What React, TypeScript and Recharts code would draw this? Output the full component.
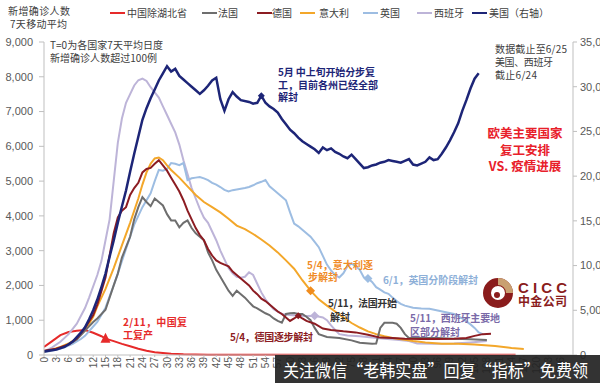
import React from "react";
import { LineChart, Line, XAxis, YAxis } from "recharts";

type Pt = [number, number];

const chinaExHubei: Pt[] = [[0,230],[2,400],[4,570],[6,660],[8,700],[10,720],[12,640],[14,540],[15,470],[17,400],[19,320],[21,250],[23,180],[25,120],[27,80],[29,55],[31,35],[34,20],[40,10],[50,8],[60,5],[70,5],[80,5],[90,6],[100,5],[115,5]];
const spain: Pt[] = [[0,100],[2,220],[4,380],[6,600],[8,900],[10,1350],[11,1650],[13,2300],[14,2700],[15,3300],[16,3900],[17,5000],[18,6100],[19,6800],[20,7250],[21,7500],[22,7750],[23,7900],[24,7950],[25,7880],[26,7700],[27,7550],[28,7400],[29,7150],[30,6900],[31,6650],[32,6400],[33,6050],[34,5600],[35,5200],[36,4800],[37,4500],[38,4200],[39,3950],[40,3800],[41,3550],[42,3300],[43,3000],[44,2750],[45,2500],[46,2350],[47,2250],[48,2220],[49,2250],[50,2380],[51,2300],[52,2050],[53,1800],[54,1600],[55,1450],[56,1320],[58,1180],[60,1150],[62,1130],[64,1120],[66,1130],[68,1080],[69,1000],[70,850],[71,720],[72,600],[74,560],[77,540],[80,500],[83,470],[86,440],[89,400],[91,330],[95,320],[100,330],[104,360],[108,400]];
const uk: Pt[] = [[0,80],[3,150],[5,220],[7,320],[9,460],[10,550],[12,820],[13,950],[15,1360],[17,2000],[18,2340],[19,2700],[20,3050],[21,3400],[22,3750],[23,4000],[24,4250],[25,4450],[26,4650],[27,5000],[28,5320],[29,5300],[30,5350],[31,5520],[32,5500],[33,5460],[34,5520],[35,5030],[36,5080],[37,5100],[38,5120],[39,5080],[40,5030],[41,4950],[42,4900],[43,4830],[44,4750],[45,4700],[46,4740],[47,4760],[48,4780],[49,4800],[50,4830],[51,4880],[52,4940],[53,4980],[54,5030],[55,4850],[56,4750],[57,4650],[58,4550],[59,4450],[60,4100],[61,3780],[62,3700],[63,3600],[64,3500],[65,3400],[66,3250],[67,3100],[68,2850],[69,2600],[70,2430],[71,2300],[72,2230],[73,2350],[74,2550],[75,2630],[76,2550],[77,2450],[78,2230],[79,2200],[80,2100],[81,1950],[82,1880],[83,1800],[84,1760],[85,1650],[86,1550],[87,1470],[88,1420],[90,1360],[92,1340],[94,1330],[96,1280],[98,1230],[100,1180],[102,1050],[104,880],[105,780],[106,650],[107,600]];
const italy: Pt[] = [[0,100],[2,160],[4,230],[6,330],[8,480],[10,700],[12,1100],[13,1400],[15,1900],[17,2500],[19,3150],[21,3800],[23,4500],[24,4900],[25,5250],[26,5500],[27,5650],[28,5680],[29,5600],[30,5450],[31,5320],[33,5100],[35,4850],[37,4600],[39,4400],[41,4250],[43,4100],[45,3920],[47,3720],[49,3620],[51,3480],[53,3320],[55,3150],[57,2950],[59,2720],[61,2480],[63,2150],[65,1850],[67,1600],[69,1420],[71,1250],[73,1080],[75,920],[77,790],[79,680],[81,600],[83,540],[85,490],[88,440],[90,400],[93,360],[97,320],[101,320],[105,300],[110,260],[114,200],[117,170]];
const france: Pt[] = [[0,100],[3,170],[6,300],[8,450],[10,700],[12,950],[13,1050],[15,1300],[17,2000],[18,2340],[19,2800],[20,3100],[21,3400],[22,3900],[23,4250],[24,4540],[25,4400],[26,4280],[27,4500],[28,4400],[29,4300],[30,4050],[31,3870],[32,3870],[33,3670],[34,3800],[35,3870],[36,3650],[37,3500],[38,3400],[39,3300],[40,2950],[41,2720],[42,2450],[43,2250],[44,2050],[45,1850],[46,1700],[47,1850],[48,1750],[49,1650],[50,1520],[51,1400],[52,1340],[53,1270],[54,1200],[55,1150],[56,1050],[57,980],[58,930],[59,1180],[60,1200],[61,1210],[62,1180],[63,1180],[64,1100],[65,1000],[66,780],[67,600],[69,520],[72,490],[75,420],[77,350],[80,320],[81,330],[82,780],[83,925],[85,925],[86,900],[87,780],[88,600],[89,490],[92,490],[96,490],[100,470],[104,450],[108,430]];
const germany: Pt[] = [[0,120],[3,180],[6,300],[8,480],[10,780],[12,1150],[13,1450],[15,2230],[17,3500],[18,3960],[19,4150],[20,4250],[21,4600],[22,4800],[23,4950],[24,5250],[25,5350],[26,5380],[27,5500],[28,5600],[29,5450],[30,5300],[31,5100],[32,4900],[33,4700],[34,4450],[35,4150],[36,3900],[37,3650],[38,3450],[39,3300],[40,3050],[41,2860],[42,2720],[43,2650],[44,2600],[45,2550],[46,2400],[47,2300],[48,2200],[49,2100],[50,2000],[51,1850],[52,1750],[53,1620],[54,1550],[55,1450],[56,1350],[57,1250],[58,1180],[59,1080],[60,980],[61,1050],[62,1130],[63,1050],[64,980],[66,900],[68,760],[70,720],[73,680],[76,650],[79,580],[82,500],[85,490],[88,470],[92,460],[96,460],[100,470],[103,490],[105,550],[107,600],[109,610]];
const usa: Pt[] = [[0,400],[3,600],[5,900],[7,1500],[9,2500],[10,3100],[11,4000],[12,5000],[13,6200],[14,7600],[15,9100],[16,11000],[17,12800],[18,14800],[19,16600],[20,18400],[21,20500],[22,22500],[23,24400],[24,26300],[25,27600],[26,28700],[27,29700],[28,30700],[29,31500],[30,32300],[31,31700],[32,32000],[33,31200],[34,30800],[35,30400],[36,30000],[37,29600],[38,29200],[39,29600],[40,30100],[41,30700],[42,31000],[43,28600],[44,27300],[45,28600],[46,29400],[47,28900],[48,28500],[50,28300],[51,28100],[52,28200],[53,29000],[54,28200],[55,27800],[56,27500],[57,27100],[58,26400],[59,25800],[60,25200],[61,24800],[62,24300],[63,23900],[64,23600],[65,23300],[66,23000],[67,22600],[68,23200],[69,22900],[70,23100],[71,22700],[72,22500],[73,22200],[74,22000],[75,22400],[76,21900],[77,21400],[78,20900],[79,21000],[80,21200],[81,21300],[82,21500],[83,21600],[84,21800],[85,21700],[86,21600],[87,21500],[88,21700],[89,21900],[90,21300],[91,21200],[92,21400],[93,21600],[94,22100],[95,21800],[96,21900],[97,22500],[98,23200],[99,24000],[100,24900],[101,25900],[102,27300],[103,28500],[104,29800],[105,30900],[106,31500]];

const xTicks = [0,3,6,9,12,15,18,21,24,27,30,33,36,39,42,45,48,51,54,57,60,63,66,69,72,75,78,81,84,87,90,93,96,99,102,105,108,111,114,117,120,123,126];
const leftTicks = [0,1000,2000,3000,4000,5000,6000,7000,8000,9000];
const rightTicks = [0,5000,10000,15000,20000,25000,30000,35000];

const rows: Record<string, number>[] = [];
for (let d = 0; d <= 129; d++) rows.push({ day: d });
const put = (key: string, pts: Pt[]) => pts.forEach(([d, v]) => { rows[d][key] = v; });
put("china", chinaExHubei);
put("spain", spain);
put("uk", uk);
put("italy", italy);
put("france", france);
put("germany", germany);
put("usa", usa);

const C = {
  china: "#e62a2a",
  france: "#6e6e6e",
  germany: "#8c1c22",
  italy: "#f3a72a",
  uk: "#9dbde2",
  spain: "#bdb4d8",
  usa: "#1d2577",
};

const CJK = "'Noto Sans CJK SC', 'Noto Sans', sans-serif";
const LAT = "'Liberation Sans', Arial, sans-serif";

const marker = (day: number, shape: "tri" | "dia", color: string, s = 4.5) => (props: any) => {
  const { cx, cy, payload, index } = props;
  if (!payload || payload.day !== day || cx == null || cy == null) return <g key={`n${index}`} />;
  const pts = shape === "tri"
    ? `${cx},${cy - s - 1} ${cx - s},${cy + s - 1} ${cx + s},${cy + s - 1}`
    : `${cx},${cy - s} ${cx + s},${cy} ${cx},${cy + s} ${cx - s},${cy}`;
  return <polygon key={`m${index}`} points={pts} fill={color} />;
};

const XTick = (props: any) => {
  const { x, y, payload } = props;
  return (
    <text x={x} y={y} transform={`rotate(-90 ${x} ${y})`} textAnchor="end" dominantBaseline="central"
      fontSize={10} fill="#595959" fontFamily={LAT}>{payload.value}</text>
  );
};

const fmt = (v: number) => v.toLocaleString("en-US");

export default function App() {
  const legend: [string, string, number, number][] = [
    ["中国除湖北省", C.china, 110, 127],
    ["法国", C.france, 202, 218],
    ["德国", C.germany, 257, 272],
    ["意大利", C.italy, 300, 319],
    ["英国", C.uk, 363, 380],
    ["西班牙", C.spain, 417, 434],
    ["美国（右轴）", C.usa, 472, 489],
  ];
  return (
    <div style={{ position: "absolute", left: 0, top: 0, width: 600, height: 383, background: "#fff", overflow: "hidden" }}>
      <LineChart width={600} height={383} data={rows} margin={{ top: 42, right: 0, bottom: 0, left: 0 }}>
        <XAxis dataKey="day" type="number" domain={[0, 129]} ticks={xTicks} interval={0} height={28}
          tick={<XTick />} tickSize={2} tickMargin={0} stroke="#bfbfbf" allowDataOverflow />
        <YAxis yAxisId="left" domain={[0, 9000]} ticks={leftTicks} width={44} tickFormatter={fmt}
          tick={{ fontSize: 11, fill: "#595959", fontFamily: LAT }} tickSize={5} tickMargin={6} stroke="#bfbfbf" />
        <YAxis yAxisId="right" orientation="right" domain={[0, 35000]} ticks={rightTicks} width={27} tickFormatter={fmt}
          tick={{ fontSize: 11, fill: "#595959", fontFamily: LAT }} tickSize={4} tickMargin={3} stroke="#bfbfbf" />
        <Line yAxisId="left" dataKey="china" stroke={C.china} strokeWidth={2} connectNulls isAnimationActive={false}
          dot={marker(15, "tri", C.china, 5)} activeDot={false} />
        <Line yAxisId="left" dataKey="spain" stroke={C.spain} strokeWidth={2} connectNulls isAnimationActive={false}
          dot={marker(66, "dia", C.spain)} activeDot={false} />
        <Line yAxisId="left" dataKey="uk" stroke={C.uk} strokeWidth={2} connectNulls isAnimationActive={false}
          dot={marker(79, "dia", C.uk)} activeDot={false} />
        <Line yAxisId="left" dataKey="italy" stroke={C.italy} strokeWidth={2} connectNulls isAnimationActive={false}
          dot={marker(65, "dia", "#f08c1e")} activeDot={false} />
        <Line yAxisId="left" dataKey="france" stroke={C.france} strokeWidth={2} connectNulls isAnimationActive={false}
          dot={false} activeDot={false} />
        <Line yAxisId="left" dataKey="germany" stroke={C.germany} strokeWidth={2} connectNulls isAnimationActive={false}
          dot={marker(62, "dia", C.germany, 3.5)} activeDot={false} />
        <Line yAxisId="right" dataKey="usa" stroke={C.usa} strokeWidth={2.5} connectNulls isAnimationActive={false}
          dot={marker(53, "dia", C.usa, 3.5)} activeDot={false} />
      </LineChart>
      <svg width={600} height={383} style={{ position: "absolute", left: 0, top: 0, pointerEvents: "none" }}>
        <g fontFamily={CJK} fontSize={10} fill="#404040">
          <text x={8} y={15} textLength={62}>新增确诊人数</text>
          <text x={10} y={28} textLength={57}>7天移动平均</text>
          {legend.map(([t, c, lx, tx]) => (
            <g key={t}>
              <line x1={lx} x2={lx + 15} y1={13} y2={13} stroke={c} strokeWidth={2} />
              <text x={tx} y={17}>{t}</text>
            </g>
          ))}
          <text x={50} y={49} textLength={113}>T=0为各国家7天平均日度</text>
          <text x={50} y={62} textLength={107}>新增确诊人数超过100例</text>
          <text x={495} y={53} textLength={72}>数据截止至6/25</text>
          <text x={495} y={66} textLength={58}>美国、西班牙</text>
          <text x={495} y={79} textLength={42}>截止6/24</text>
        </g>
        <g fontFamily={CJK} fontSize={10} fontWeight="bold" fill="#1d2577">
          <text x={278} y={76} textLength={97}>5月 中上旬开始分步复</text>
          <text x={278} y={89} textLength={100}>工，目前各州已经全部</text>
          <text x={278} y={101}>解封</text>
        </g>
        <g fontFamily={CJK} fontSize={12.5} fontWeight="bold" fill="#e8202a" textAnchor="middle">
          <text x={525} y={138}>欧美主要国家</text>
          <text x={525} y={155}>复工安排</text>
          <text x={525} y={171}>VS. 疫情进展</text>
        </g>
        <g fontFamily={CJK} fontSize={10} fontWeight="bold">
          <text x={123} y={326} fill="#e62a2a" textLength={64}>2/11，中国复</text>
          <text x={123} y={339} fill="#e62a2a">工复产</text>
          <text x={307} y={269} fill="#f08c28" textLength={66}>5/4，意大利逐</text>
          <text x={308} y={281} fill="#f08c28">步解封</text>
          <text x={383} y={284} fill="#8eb0d8" textLength={95}>6/1，英国分阶段解封</text>
          <text x={328} y={307} fill="#333" textLength={69}>5/11，法国开始</text>
          <text x={330} y={321} fill="#333">解封</text>
          <text x={230} y={341} fill="#8c1c22" textLength={83}>5/4，德国逐步解封</text>
          <text x={410} y={322} fill="#7a6aa8" textLength={90}>5/11，西班牙主要地</text>
          <text x={410} y={336} fill="#7a6aa8" textLength={50}>区部分解封</text>
        </g>
        <g>
          <circle cx={498} cy={293} r={11} fill="none" stroke="#8a1c1c" strokeWidth={8} />
          <path d="M498,278 A15,15 0 0,1 513,293 L506,293 A8,8 0 0,0 498,285 Z" fill="#c9a071" />
          <circle cx={497} cy={295} r={3} fill="#8a1c1c" />
          <text x={518} y={293} fontFamily={LAT} fontWeight="bold" fontSize={15} fill="#8a1c1c" textLength={49}>CICC</text>
          <text x={518} y={306} fontFamily={CJK} fontWeight="bold" fontSize={12} fill="#8a1c1c" textLength={49}>中金公司</text>
        </g>
        <rect x={275} y={355} width={325} height={28} fill="#222" opacity={0.92} />
        <text x={283} y={377} fontFamily={CJK} fontSize={17} fill="#fff" textLength={305} lengthAdjust="spacingAndGlyphs">关注微信“老韩实盘”回复“指标”免费领</text>
      </svg>
    </div>
  );
}
